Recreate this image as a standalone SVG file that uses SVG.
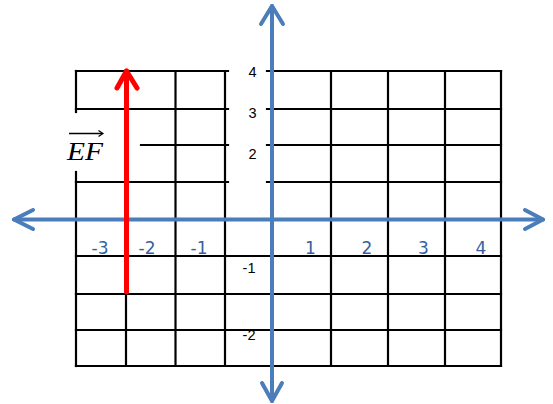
<svg xmlns="http://www.w3.org/2000/svg" width="553" height="404" viewBox="0 0 553 404">
<style>
.grid line{stroke:#000;stroke-width:2.2;stroke-linecap:square}
.axis{stroke:#4A7DBA;stroke-width:4;fill:none;stroke-linecap:round;stroke-linejoin:round}
.vec{stroke:#FF0000;stroke-width:5;fill:none;stroke-linecap:round;stroke-linejoin:round}
.bl{font-family:"Liberation Sans",Arial,sans-serif;font-size:14.5px;fill:#000;text-anchor:middle}
.xl{font-family:"DejaVu Sans",Verdana,sans-serif;font-size:17px;fill:#35609F;text-anchor:middle}
.ef{font-family:"Liberation Serif","Times New Roman",serif;font-style:italic;font-size:26px;fill:#000}
</style>
<rect width="553" height="404" fill="#fff"/>
<g id="grid" class="grid">
<line x1="76" y1="71" x2="76" y2="112"/>
<line x1="76" y1="172" x2="76" y2="366"/>
<line x1="126" y1="71" x2="126" y2="366"/>
<line x1="175.5" y1="71" x2="175.5" y2="366"/>
<line x1="225" y1="71" x2="225" y2="366"/>
<line x1="331" y1="71" x2="331" y2="366"/>
<line x1="388" y1="71" x2="388" y2="366"/>
<line x1="445" y1="71" x2="445" y2="366"/>
<line x1="501" y1="71" x2="501" y2="366"/>
<line x1="76" y1="71" x2="228" y2="71"/>
<line x1="267" y1="71" x2="501" y2="71"/>
<line x1="76" y1="109" x2="228" y2="109"/>
<line x1="267" y1="109" x2="501" y2="109"/>
<line x1="141" y1="145" x2="228" y2="145"/>
<line x1="267" y1="145" x2="501" y2="145"/>
<line x1="76" y1="182" x2="228" y2="182"/>
<line x1="267" y1="182" x2="501" y2="182"/>
<line x1="76" y1="256" x2="501" y2="256"/>
<line x1="76" y1="294" x2="501" y2="294"/>
<line x1="76" y1="330" x2="501" y2="330"/>
<line x1="76" y1="366" x2="501" y2="366"/>
</g>
<g id="connectors">
<g id="x-axis">
<path class="axis" d="M14 219.5H543"/>
<path class="axis" d="M33 210L14 219.5L33 229"/>
<path class="axis" d="M525 210L543 219.5L525 229"/>
</g>
<g id="y-axis">
<path class="axis" d="M272 6V401"/>
<path class="axis" d="M261 24L272 6L283 24"/>
<path class="axis" d="M262 383L272 401L282 383"/>
</g>
<g id="vector-EF">
<path class="vec" d="M126.5 292V71"/>
<path class="vec" d="M117 88L126.5 71L137 88"/>
</g>
</g>
<g id="y-labels">
<text class="bl" x="252.5" y="77">4</text>
<text class="bl" x="252.5" y="118">3</text>
<text class="bl" x="252.5" y="159">2</text>
<text class="bl" x="249" y="273">-1</text>
<text class="bl" x="249" y="340">-2</text>
</g>
<g id="x-labels">
<text class="xl" x="100" y="254">-3</text>
<text class="xl" x="147" y="254">-2</text>
<text class="xl" x="199" y="254">-1</text>
<text class="xl" x="310.5" y="253.5">1</text>
<text class="xl" x="367" y="253.5">2</text>
<text class="xl" x="423.5" y="253.5">3</text>
<text class="xl" x="481" y="253.5">4</text>
</g>
<g id="label-EF">
<text class="ef" x="67" y="160" textLength="36" lengthAdjust="spacingAndGlyphs">EF</text>
<path d="M69 133.5H102" stroke="#000" stroke-width="1.3" fill="none"/>
<path d="M98.5 130.5L103 133.5L98.5 136.5" stroke="#000" stroke-width="1.2" fill="none"/>
</g>
</svg>
